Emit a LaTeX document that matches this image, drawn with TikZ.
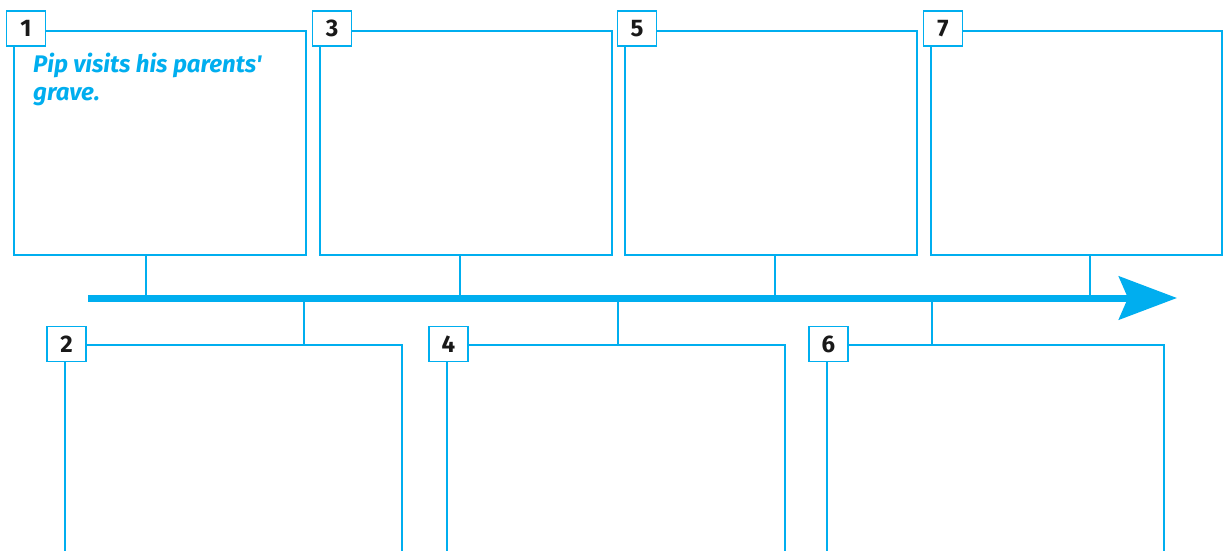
\documentclass[tikz,border=0pt]{standalone}
\usepackage{fontspec}
\setmainfont{Fira Sans}
\usetikzlibrary{arrows.meta}
\definecolor{cy}{HTML}{00AEEF}
\begin{document}
\begin{tikzpicture}[x=1pt,y=-1pt,
  boxline/.style={draw=cy,line width=2.6pt},
  conn/.style={draw=cy,line width=2.2pt},
  tab/.style={draw=cy,fill=white,line width=1.4pt,minimum width=39pt,minimum height=35pt,inner sep=0pt,font=\fontsize{24}{24}\selectfont\bfseries,text=black!90},
  txt/.style={text=cy,font=\fontsize{24}{28}\selectfont\bfseries\itshape,align=left,anchor=base west,inner sep=0pt}]
\useasboundingbox[fill=white] (0,0) rectangle (1224,551);
% arrow
\coordinate (as) at (88,298);
\coordinate (ae) at (1177,298);
\draw[cy,line width=7pt,-{Stealth[length=58pt,width=43pt,inset=9pt]}] (as) -- (ae);
% top boxes
\foreach \n/\l/\r/\c in {1/14/306/146, 3/320/612/460, 5/625/917/775, 7/931/1222/1090}{
  \draw[boxline] (\l,31) rectangle (\r,255);
  \coordinate (b\n) at (\c,255);
  \coordinate (j\n) at (\c,298);
  \draw[conn] (b\n) -- (j\n);
  \node[tab] (t\n) at (\l+12,28.5) {\n};
}
% bottom boxes
\foreach \n/\l/\r/\c in {2/65/402/304, 4/447/785/618, 6/827/1164/932}{
  \draw[boxline] (\l,551) -- (\l,345) -- (\r,345) -- (\r,551);
  \coordinate (b\n) at (\c,345);
  \coordinate (j\n) at (\c,298);
  \draw[conn] (j\n) -- (b\n);
  \node[tab] (t\n) at (\l+1.5,344) {\n};
}
\node[txt] (p1) at (33,100) {Pip visits his parents\textquotesingle\\grave.};
\end{tikzpicture}
\end{document}
